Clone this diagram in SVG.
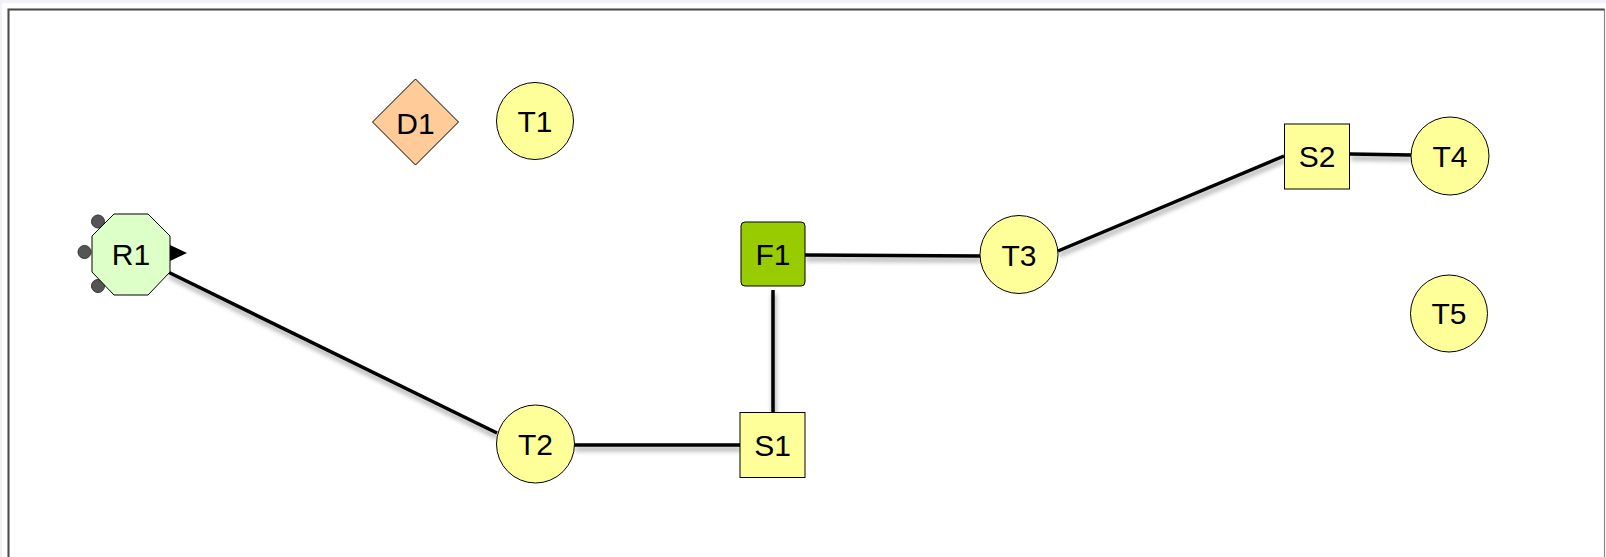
<svg xmlns="http://www.w3.org/2000/svg" width="1606" height="557" viewBox="0 0 1606 557">
  <style>
    .lbl { font-family: "Liberation Sans", Arial, sans-serif; font-size: 30px; fill: #000; text-anchor: middle; dominant-baseline: central; }
    .term { fill: #ffff99; stroke: #000; stroke-width: 1; }
    .link { stroke: #000; stroke-width: 3.5; fill: none; }
    .port { fill: #555; stroke: #333; stroke-width: 1; }
  </style>
  <defs>
    <filter id="lineShadow" x="-5%" y="-20%" width="110%" height="160%">
      <feGaussianBlur in="SourceAlpha" stdDeviation="2.5"/>
      <feOffset dx="1" dy="4" result="b"/>
      <feComponentTransfer><feFuncA type="linear" slope="0.4"/></feComponentTransfer>
      <feMerge><feMergeNode/><feMergeNode in="SourceGraphic"/></feMerge>
    </filter>
  </defs>

  <!-- page and panel -->
  <rect x="0" y="0" width="1606" height="557" fill="#ffffff"/>
  <rect x="0" y="0" width="1606" height="3" fill="#f1f1f8"/>
  <rect x="0" y="0" width="2" height="557" fill="#f1f1f8"/>
  <rect x="8.5" y="9.5" width="1596" height="560" fill="#ffffff" stroke="#888" stroke-width="1.2"/>
  <path d="M8.5 560 V9.5 H1604.5" fill="none" stroke="#4a4a4a" stroke-width="2"/>

  <!-- connectors -->
  <g id="connectors" filter="url(#lineShadow)">
    <line class="link" x1="168" y1="272" x2="497" y2="433"/>
    <line class="link" x1="574" y1="445" x2="740" y2="445"/>
    <line class="link" x1="773" y1="290" x2="773" y2="412"/>
    <line class="link" x1="805" y1="255" x2="980" y2="256"/>
    <line class="link" x1="1058" y1="251" x2="1284" y2="156"/>
    <line class="link" x1="1350" y1="154" x2="1411" y2="155"/>
  </g>

  <!-- nodes -->
  <g id="R1">
    <circle class="port" cx="98" cy="221.5" r="6.5"/>
    <circle class="port" cx="84.5" cy="252" r="6.5"/>
    <circle class="port" cx="98" cy="286" r="6.5"/>
    <polygon points="114,214 148,214 170,236 170,272 148,295 114,295 92,272 92,236" fill="#ddffc8" stroke="#000" stroke-width="1"/>
    <polygon points="170,245 187,253 170,261" fill="#000"/>
    <text class="lbl" x="131" y="254.5">R1</text>
  </g>
  <g id="D1">
    <polygon points="415.5,79 458.5,122 415.5,165 372.5,122" fill="#ffcc99" stroke="#000" stroke-width="1"/>
    <text class="lbl" x="415.5" y="123">D1</text>
  </g>
  <g id="T1">
    <circle class="term" cx="535" cy="121" r="38.5"/>
    <text class="lbl" x="535" y="121">T1</text>
  </g>
  <g id="F1">
    <rect x="741" y="222" width="64" height="64" rx="4" fill="#99cc00" stroke="#000" stroke-width="1"/>
    <text class="lbl" x="773" y="254">F1</text>
  </g>
  <g id="T3">
    <circle class="term" cx="1019" cy="254.5" r="39"/>
    <text class="lbl" x="1019" y="255">T3</text>
  </g>
  <g id="S2">
    <rect class="term" x="1284.5" y="124" width="65" height="65"/>
    <text class="lbl" x="1317" y="156.5">S2</text>
  </g>
  <g id="T4">
    <circle class="term" cx="1450" cy="156" r="39"/>
    <text class="lbl" x="1450" y="156">T4</text>
  </g>
  <g id="T5">
    <circle class="term" cx="1449" cy="313.5" r="38.5"/>
    <text class="lbl" x="1449" y="313.5">T5</text>
  </g>
  <g id="T2">
    <circle class="term" cx="535.5" cy="444" r="39"/>
    <text class="lbl" x="535.5" y="444">T2</text>
  </g>
  <g id="S1">
    <rect class="term" x="740" y="412.5" width="65" height="65"/>
    <text class="lbl" x="772.5" y="445">S1</text>
  </g>
</svg>
